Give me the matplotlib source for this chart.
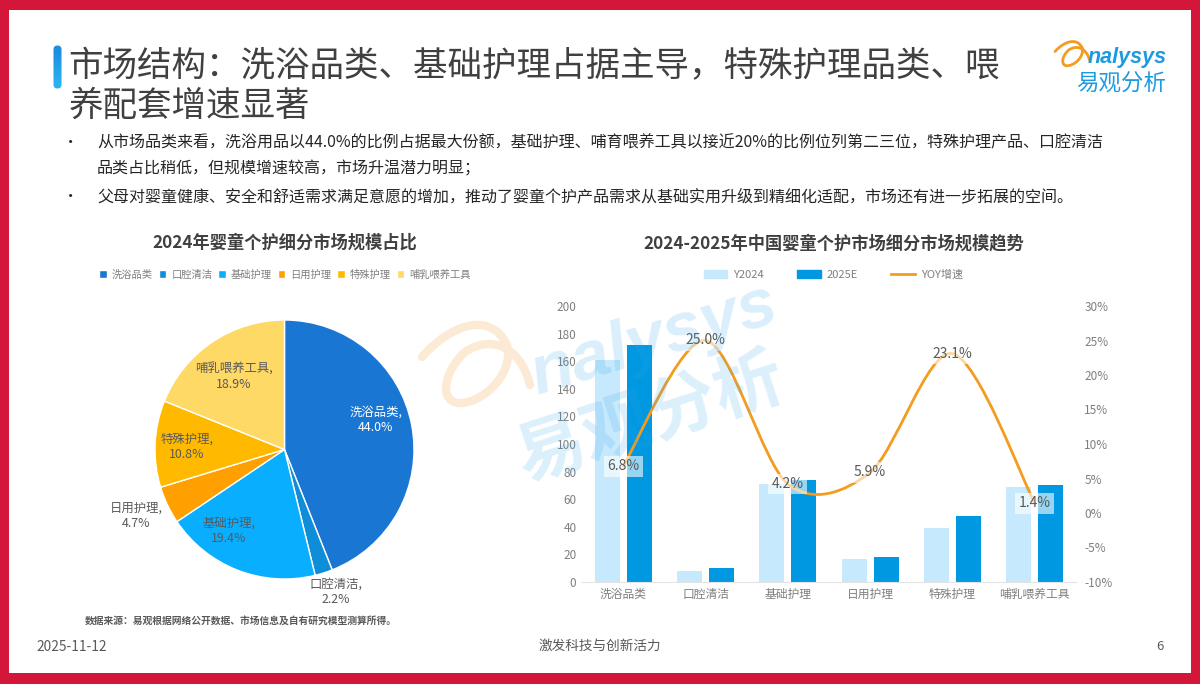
import numpy as np
import matplotlib
matplotlib.use("Agg")
import matplotlib.pyplot as plt
from matplotlib.patches import Rectangle, Patch, PathPatch, FancyBboxPatch
from matplotlib.path import Path
from matplotlib.lines import Line2D
from matplotlib.colors import LinearSegmentedColormap
from matplotlib.ticker import FuncFormatter

plt.rcParams['font.family'] = ['Noto Sans CJK SC', 'DejaVu Sans']

# ---------- data ----------
categories = ['洗浴品类', '口腔清洁', '基础护理', '日用护理', '特殊护理', '哺乳喂养工具']
pie_shares = [44.0, 2.2, 19.4, 4.7, 10.8, 18.9]
pie_colors = ['#1976D2', '#0E8DD8', '#0AAEFF', '#FF9F00', '#FFBA00', '#FFD966']
y2024 = [161, 8, 71, 17, 39, 69]
y2025e = [172, 10, 74, 18, 48, 70]
yoy = [6.8, 25.0, 4.2, 5.9, 23.1, 1.4]
W, H = 1200, 684
RED = '#D4163A'
DARK = '#404040'
GREY = '#7F7F7F'

title_lines = ['市场结构：洗浴品类、基础护理占据主导，特殊护理品类、喂', '养配套增速显著']
bullets = [
    (142.5, '从市场品类来看，洗浴用品以44.0%的比例占据最大份额，基础护理、哺育喂养工具以接近20%的比例位列第二三位，特殊护理产品、口腔清洁', True),
    (169.5, '品类占比稍低，但规模增速较高，市场升温潜力明显；', False),
    (196.5, '父母对婴童健康、安全和舒适需求满足意愿的增加，推动了婴童个护产品需求从基础实用升级到精细化适配，市场还有进一步拓展的空间。', True),
]

fig = plt.figure(figsize=(W / 100, H / 100), dpi=100, facecolor='white')


def box(l, t, r, b):
    return [l / W, 1 - b / H, (r - l) / W, (b - t) / H]


def swoosh(ax, ox, oy, sx, sy, color, lw, alpha=1.0):
    """The Analysys logo stroke, decoration only."""
    base = [(422, 357), (450, 325), (490, 310), (507, 345), (515, 375), (480, 405), (458, 403),
            (438, 400), (445, 370), (465, 352), (490, 335), (520, 345), (530, 385)]
    v = [(ox + (a - 422) * sx, oy + (b - 320) * sy) for a, b in base]
    c = [Path.MOVETO] + [Path.CURVE4] * 12
    ax.add_patch(PathPatch(Path(v, c), fill=False, edgecolor=color, lw=lw, alpha=alpha, capstyle='round'))


# ---------- background + text layer in pixel coordinates ----------
bg = fig.add_axes([0, 0, 1, 1], zorder=0)
bg.set_xlim(0, W)
bg.set_ylim(H, 0)
bg.axis('off')
for rect in [(0, 0, W, 10), (0, 673, W, 11), (0, 0, 9, H), (1191, 0, 9, H)]:
    bg.add_patch(Rectangle(rect[:2], rect[2], rect[3], color=RED, lw=0))

grad = LinearSegmentedColormap.from_list('g', ['#1A8FE3', '#2BB0F0'])
acc = fig.add_axes(box(52, 44, 63, 90), zorder=1)
im = acc.imshow(np.array([[0.0], [0.5], [1.0]]), cmap=grad, aspect='auto', interpolation='bilinear',
                extent=(0, 11, 46, 0))
acc.axis('off')
clip = FancyBboxPatch((1.5, 1.5), 8, 43, boxstyle='round,pad=0,rounding_size=4', transform=acc.transData,
                      fc='none', ec='none')
acc.add_patch(clip)
im.set_clip_path(clip)

bg.text(68.5, 66.5, title_lines[0], fontsize=24.85, color=DARK, va='center', ha='left')
bg.text(68.5, 106.5, title_lines[1], fontsize=24.85, color=DARK, va='center', ha='left')
for y, s, dot in bullets:
    if dot:
        bg.text(71, y, '•', fontsize=11, color='#222222', va='center', ha='center')
    bg.text(97, y, s, fontsize=11.52, color='#262626', va='center', ha='left')

bg.text(284.5, 243, '2024年婴童个护细分市场规模占比', fontsize=12.4, fontweight='bold', color=DARK, ha='center', va='center')
bg.text(833.5, 243, '2024-2025年中国婴童个护市场细分市场规模趋势', fontsize=12.4, fontweight='bold', color=DARK, ha='center', va='center')
bg.text(85, 621, '数据来源：易观根据网络公开数据、市场信息及自有研究模型测算所得。', fontsize=7.05, fontweight='bold', color='#595959', va='center', ha='left')
bg.text(36, 647, '2025-11-12', fontsize=9.9, color='#595959', va='center', ha='left')
bg.text(600, 646, '激发科技与创新活力', fontsize=9.8, color='#595959', va='center', ha='center')
bg.text(1160, 647, '6', fontsize=9.5, color='#595959', va='center', ha='center')

# logo
swoosh(bg, 1055, 40, 0.32, 0.31, '#F39C1F', 2)
bg.text(1088, 57, 'nalysys', fontsize=15.5, fontstyle='italic', fontweight='bold', family='Liberation Sans',
        color='#1E9BE0', va='center', ha='left')
bg.text(1121, 84, '易观分析', fontsize=16.2, fontweight='medium', color='#1E9BE0', va='center', ha='center')

# ---------- pie ----------
pie_ax = fig.add_axes(box(155, 320, 414, 579), zorder=2)
wedges, _ = pie_ax.pie(pie_shares, colors=pie_colors, startangle=90, counterclock=False, radius=1,
                       wedgeprops=dict(edgecolor='white', linewidth=1))
pie_ax.set_xlim(-1, 1)
pie_ax.set_ylim(-1, 1)

label_pos = [(376, 420), (336, 592), (229, 531), (136, 516), (187, 447), (234, 377)]
label_col = ['white', '#595959', '#595959', '#595959', '#595959', '#595959']
over = fig.add_axes([0, 0, 1, 1], zorder=6)
over.set_xlim(0, W)
over.set_ylim(H, 0)
over.axis('off')
over.patch.set_alpha(0)
for (x, y), c, name, v in zip(label_pos, label_col, categories, pie_shares):
    over.text(x, y, f'{name},\n{v:.1f}%', fontsize=8.9, color=c, ha='center', va='center', linespacing=1.2)

fig.legend(wedges, categories, loc='center', bbox_to_anchor=(285 / W, 1 - 274.5 / H), ncol=6, frameon=False,
           fontsize=7.4, labelcolor=GREY, handlelength=0.75, handleheight=0.75, handletextpad=0.5,
           columnspacing=0.55, borderpad=0)

# ---------- bars + line ----------
ax = fig.add_axes(box(582, 306, 1076, 582), zorder=3)
ax.patch.set_alpha(0)
x = np.arange(len(categories))
ax.bar(x - 0.195, y2024, width=0.305, color='#C6E9FD', label='Y2024')
ax.bar(x + 0.195, y2025e, width=0.305, color='#0098E1', label='2025E')
ax.set_xlim(-0.5, 5.5)
ax.set_ylim(0, 200)
ax.set_yticks(np.arange(0, 201, 20))
ax.set_xticks(x, categories)
ax.tick_params(axis='both', length=0, labelsize=8.5, labelcolor=GREY)
ax.tick_params(axis='x', pad=9)
ax.tick_params(axis='y', pad=4)
for t in ax.get_xticklabels():
    t.set_va('center')
for s in ['top', 'left', 'right']:
    ax.spines[s].set_visible(False)
ax.spines['bottom'].set_color('#E3E3E3')

ax2 = ax.twinx()
ax2.patch.set_alpha(0)
ax2.set_ylim(-10, 30)
ax2.set_yticks(np.arange(-10, 31, 5))
ax2.yaxis.set_major_formatter(FuncFormatter(lambda v, _: f'{v:.0f}%'))
ax2.tick_params(axis='y', length=0, labelsize=8.5, labelcolor=GREY, pad=6)
for s in ax2.spines.values():
    s.set_visible(False)

# smooth line: one Bezier segment between neighbouring data values
pts = np.column_stack([x, yoy])
verts, codes = [tuple(pts[0])], [Path.MOVETO]
for i in range(len(pts) - 1):
    before = pts[max(i - 1, 0)]
    after = pts[min(i + 2, len(pts) - 1)]
    verts += [tuple(pts[i] + (pts[i + 1] - before) / 6.5), tuple(pts[i + 1] - (after - pts[i]) / 6.5), tuple(pts[i + 1])]
    codes += [Path.CURVE4] * 3
ax2.add_patch(PathPatch(Path(verts, codes), fill=False, edgecolor='#F39C1F', lw=2, capstyle='round'))
for xi, v in zip(x, yoy):
    ax2.text(xi, v, f'{v:.1f}%', fontsize=10, color='#595959', ha='center', va='center', zorder=5,
             bbox=dict(boxstyle='square,pad=0.25', fc='white', ec='none', alpha=0.6))

handles = [Patch(color='#C6E9FD', label='Y2024'), Patch(color='#0098E1', label='2025E'),
           Line2D([0], [0], color='#F39C1F', lw=2, label='YOY增速')]
fig.legend(handles=handles, loc='center', bbox_to_anchor=(833.5 / W, 1 - 274.5 / H), ncol=3, frameon=False,
           fontsize=8, labelcolor=GREY, handlelength=2.1, handleheight=0.75, handletextpad=0.55,
           columnspacing=3.0, borderpad=0)

# ---------- watermark ----------
swoosh(over, 422, 320, 1.0, 1.0, '#FBE3C8', 6, 0.75)
over.text(654, 340, 'nalysys', fontsize=50, fontstyle='italic', fontweight='bold', family='Liberation Sans',
          color='#2FA5EA', alpha=0.18, rotation=17, ha='center', va='center')
over.text(650, 419, '易观分析', fontsize=50, fontweight='bold', color='#2FA5EA', alpha=0.17, rotation=18,
          ha='center', va='center')

fig.savefig('out.png', dpi=100)
